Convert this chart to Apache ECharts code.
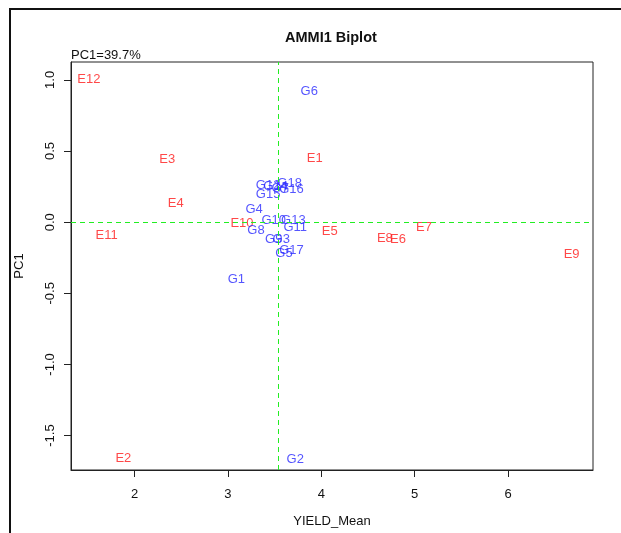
<!DOCTYPE html>
<html>
<head>
<meta charset="utf-8">
<script src="https://cdn.jsdelivr.net/npm/echarts@6/dist/echarts.min.js"></script>
<style>
html,body{margin:0;padding:0;background:#fff;}
#chart{width:621px;height:533px;}
</style>
</head>
<body>
<div id="chart"></div>
<script>
// Environments (red labels)
const envNames = ['E1','E2','E3','E4','E5','E6','E7','E8','E9','E10','E11','E12'];
const envX     = [3.93, 1.88, 2.35, 2.44, 4.09, 4.82, 5.10, 4.68, 6.68, 3.15, 1.70, 1.51];
const envY     = [0.463,-1.645,0.456,0.149,-0.054,-0.110,-0.020,-0.100,-0.210,0.002,-0.082,1.015];

// Genotypes (blue labels)
const genNames = ['G1','G2','G3','G4','G5','G6','G7','G8','G9','G10','G11','G12','G13','G14','G15','G16','G17','G18'];
const genX     = [3.09, 3.72, 3.57, 3.28, 3.60, 3.87, 3.56, 3.30, 3.49, 3.49, 3.72, 3.43, 3.70, 3.51, 3.43, 3.68, 3.68, 3.66];
const genY     = [-0.389,-1.652,-0.110,0.107,-0.207,0.935,0.253,-0.047,-0.110,0.023,-0.026,0.274,0.023,0.267,0.211,0.246,-0.186,0.288];

// Axis ticks
const xTicks = [2, 3, 4, 5, 6];
const yTicks = [-1.5, -1.0, -0.5, 0.0, 0.5, 1.0];

// Reference lines
const meanYield = 3.54;
const pcZero = 0;

const FONT = "'Liberation Sans', Arial, sans-serif";

function toData(names, xs, ys) {
  return names.map((n, i) => ({ name: n, value: [xs[i], ys[i]] }));
}

const chart = echarts.init(document.getElementById('chart'), null, { renderer: 'canvas' });

const labelCommon = {
  show: true,
  position: 'inside',
  offset: [0, 2],
  formatter: p => p.name,
  fontFamily: FONT,
  fontSize: 13
};

const refLineStyle = { color: '#22ee22', width: 1, type: [5, 4] };

chart.setOption({
  animation: false,
  backgroundColor: '#ffffff',
  title: [
    {
      text: 'AMMI1 Biplot',
      left: 285, top: 30, padding: 0,
      textStyle: { fontFamily: FONT, fontSize: 14.5, fontWeight: 'bold', color: '#111' }
    },
    {
      text: 'PC1=39.7%',
      left: 71, top: 49, padding: 0,
      textStyle: { fontFamily: FONT, fontSize: 13, fontWeight: 'normal', color: '#111' }
    }
  ],
  graphic: [
    { type: 'line', shape: { x1: 9, y1: 9, x2: 621, y2: 9 }, style: { stroke: '#111', lineWidth: 2 }, silent: true },
    { type: 'line', shape: { x1: 10, y1: 9, x2: 10, y2: 533 }, style: { stroke: '#111', lineWidth: 2 }, silent: true }
  ],
  grid: {
    left: 71, right: 28, top: 62, bottom: 60,
    show: true, borderColor: '#222', borderWidth: 1, backgroundColor: 'transparent'
  },
  xAxis: {
    type: 'value',
    min: 1.319, max: 6.909,
    name: 'YIELD_Mean',
    nameLocation: 'middle',
    nameGap: 45,
    nameTextStyle: { fontFamily: FONT, fontSize: 13, color: '#111' },
    axisLine: { show: true, onZero: false, lineStyle: { color: '#222', width: 1 } },
    axisTick: { show: true, length: 7, customValues: xTicks, lineStyle: { color: '#222' } },
    axisLabel: { customValues: xTicks, margin: 18, fontFamily: FONT, fontSize: 13, color: '#111', formatter: v => String(v) },
    splitLine: { show: false }
  },
  yAxis: {
    type: 'value',
    min: -1.742, max: 1.126,
    name: 'PC1',
    nameLocation: 'middle',
    nameGap: 45,
    nameRotate: 90,
    nameTextStyle: { fontFamily: FONT, fontSize: 13, color: '#111' },
    axisLine: { show: true, onZero: false, lineStyle: { color: '#222', width: 1 } },
    axisTick: { show: true, length: 7, customValues: yTicks, lineStyle: { color: '#222' } },
    axisLabel: { customValues: yTicks, rotate: 90, margin: 14, fontFamily: FONT, fontSize: 13, color: '#111', formatter: v => v.toFixed(1) },
    splitLine: { show: false }
  },
  series: [
    {
      type: 'scatter',
      name: 'Environments',
      data: toData(envNames, envX, envY),
      symbolSize: 1,
      itemStyle: { color: 'rgba(0,0,0,0)' },
      label: Object.assign({}, labelCommon, { color: '#ff1a1a' }),
      markLine: {
        silent: true,
        symbol: ['none', 'none'],
        label: { show: false },
        lineStyle: refLineStyle,
        emphasis: { disabled: true },
        data: [
          { xAxis: meanYield, lineStyle: refLineStyle },
          { yAxis: pcZero, lineStyle: refLineStyle }
        ]
      }
    },
    {
      type: 'scatter',
      name: 'Genotypes',
      data: toData(genNames, genX, genY),
      symbolSize: 1,
      itemStyle: { color: 'rgba(0,0,0,0)' },
      label: Object.assign({}, labelCommon, { color: '#2a2aff' })
    }
  ]
});
</script>
</body>
</html>
